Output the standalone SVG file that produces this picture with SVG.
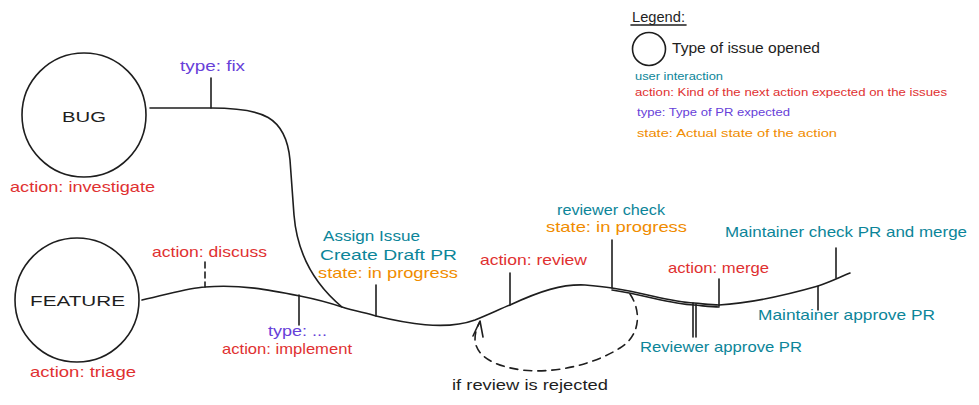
<svg xmlns="http://www.w3.org/2000/svg" width="979" height="405" viewBox="0 0 979 405">
<style>
text{font-family:"Liberation Sans","DejaVu Sans",sans-serif;font-size:15px}
.k{fill:#1e1e1e}
.t{fill:#0c8599}
.r{fill:#e03131}
.p{fill:#6741d9}
.o{fill:#f08c00}
.s{fill:none;stroke:#1e1e1e;stroke-width:1.6;stroke-linecap:round;stroke-linejoin:round}
.n{fill:none;stroke:#1e1e1e;stroke-width:1.6}
.lg{font-size:11px}
</style>
<rect width="979" height="405" fill="#ffffff"/>

<g id="legend">
  <text class="k" x="632" y="22" font-size="12" textLength="53" lengthAdjust="spacingAndGlyphs">Legend:</text>
  <line class="s" x1="631" y1="25" x2="686" y2="25"/>
  <circle class="n" cx="649" cy="49" r="16.5"/>
  <text class="k" x="672" y="53" font-size="14" textLength="148" lengthAdjust="spacingAndGlyphs">Type of issue opened</text>
  <text class="t lg" x="635" y="80" textLength="88" lengthAdjust="spacingAndGlyphs">user interaction</text>
  <text class="r lg" x="635" y="96" textLength="312" lengthAdjust="spacingAndGlyphs">action: Kind of the next action expected on the issues</text>
  <text class="p lg" x="637" y="116" textLength="153" lengthAdjust="spacingAndGlyphs">type: Type of PR expected</text>
  <text class="o lg" x="637" y="137" textLength="200" lengthAdjust="spacingAndGlyphs">state: Actual state of the action</text>
</g>

<g id="bug">
  <circle class="n" cx="84" cy="115" r="62"/>
  <text class="k" x="84" y="122" font-size="19" text-anchor="middle" textLength="44" lengthAdjust="spacingAndGlyphs">BUG</text>
  <text class="r" x="10" y="192" textLength="145" lengthAdjust="spacingAndGlyphs">action: investigate</text>
</g>

<g id="feature">
  <circle class="n" cx="77" cy="300" r="62"/>
  <text class="k" x="30" y="306" font-size="19" textLength="95" lengthAdjust="spacingAndGlyphs">FEATURE</text>
  <text class="r" x="30" y="377" textLength="106" lengthAdjust="spacingAndGlyphs">action: triage</text>
</g>

<g id="connectors">
  <path class="s" d="M150,108 L211,108 C262,108 286,116 290,160 L294,215 C297,252 312,282 342,307"/>
  <path class="s" d="M142,300 C170,294 188,288 205,287 C240,284 270,290 300,296 C320,300 333,304 342,307 C355,311 366,313 376,316 C405,323 445,331 475,320 C490,314 500,309 510,305 C540,291 562,284 585,285 C598,286 606,287 612,288 C650,294 670,302 694,303 C705,304 712,305 719,305 C752,303 790,294 818,286 C830,282 840,277 850,273"/>
  <path class="s" d="M612,290 C650,296 670,304 694,305 C705,306 712,307 719,307" stroke-width="1"/>
  <path class="s" d="M630,294 C642,312 640,336 620,348 C595,364 555,374 522,370 C492,366 476,355 475,340 C475,332 477,327 480,322" stroke-dasharray="8 6"/>
  <path class="s" d="M473,336 L480,321 L483,337"/>
  <line class="s" x1="211" y1="78" x2="211" y2="108"/>
  <line class="s" x1="205" y1="262" x2="205" y2="287" stroke-dasharray="6 4"/>
  <line class="s" x1="299" y1="295" x2="299" y2="325"/>
  <line class="s" x1="376" y1="285" x2="376" y2="316"/>
  <line class="s" x1="510" y1="273" x2="510" y2="305"/>
  <line class="s" x1="612" y1="240" x2="612" y2="288"/>
  <line class="s" x1="693" y1="303" x2="693" y2="337"/>
  <line class="s" x1="696" y1="304" x2="696" y2="337" stroke-width="1"/>
  <line class="s" x1="719" y1="279" x2="719" y2="306"/>
  <line class="s" x1="818" y1="286" x2="818" y2="310"/>
  <line class="s" x1="836" y1="248" x2="836" y2="278"/>
</g>

<g id="labels">
  <text class="p" x="180" y="71" textLength="65" lengthAdjust="spacingAndGlyphs">type: fix</text>
  <text class="r" x="152" y="257" textLength="115" lengthAdjust="spacingAndGlyphs">action: discuss</text>
  <text class="p" x="268" y="336" textLength="59" lengthAdjust="spacingAndGlyphs">type: ...</text>
  <text class="r" x="222" y="354" textLength="130" lengthAdjust="spacingAndGlyphs">action: implement</text>
  <text class="t" x="323" y="241" textLength="97" lengthAdjust="spacingAndGlyphs">Assign Issue</text>
  <text class="t" x="320" y="260" font-size="14.5" textLength="137" lengthAdjust="spacingAndGlyphs">Create Draft PR</text>
  <text class="o" x="318" y="278" font-size="14.5" textLength="140" lengthAdjust="spacingAndGlyphs">state: in progress</text>
  <text class="r" x="480" y="265" textLength="107" lengthAdjust="spacingAndGlyphs">action: review</text>
  <text class="t" x="557" y="215" font-size="13.5" textLength="108" lengthAdjust="spacingAndGlyphs">reviewer check</text>
  <text class="o" x="546" y="232" font-size="13.5" textLength="141" lengthAdjust="spacingAndGlyphs">state: in progress</text>
  <text class="t" x="640" y="352" textLength="162" lengthAdjust="spacingAndGlyphs">Reviewer approve PR</text>
  <text class="r" x="668" y="273" textLength="101" lengthAdjust="spacingAndGlyphs">action: merge</text>
  <text class="t" x="725" y="237" textLength="242" lengthAdjust="spacingAndGlyphs">Maintainer check PR and merge</text>
  <text class="t" x="758" y="320" textLength="177" lengthAdjust="spacingAndGlyphs">Maintainer approve PR</text>
  <text class="k" x="452" y="390" textLength="156" lengthAdjust="spacingAndGlyphs">if review is rejected</text>
</g>
</svg>
